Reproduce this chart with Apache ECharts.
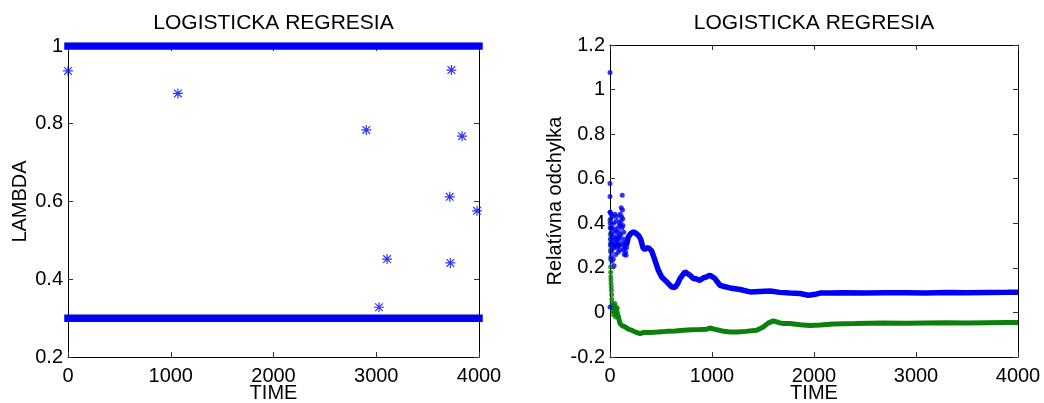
<!DOCTYPE html>
<html>
<head>
<meta charset="utf-8">
<script src="https://cdn.jsdelivr.net/npm/echarts@6/dist/echarts.min.js"></script>
<style>
html,body{margin:0;padding:0;background:#fff;}
#chart{width:1044px;height:403px;}
</style>
</head>
<body>
<div id="chart"></div>
<script>
// ---------- DATA ----------
const titleText = 'LOGISTICKA REGRESIA';
const xName = 'TIME';
const leftYName = 'LAMBDA';
const rightYName = 'Relatívna odchylka';

// left plot: lambda mostly switches between two levels; dense bands drawn as segments
const lambdaHigh = 1;
const lambdaLow = 0.3;
const highBandSegments = [[0, 946], [956, 1745], [1755, 2222], [2232, 2748], [2758, 4000]];
const lowBandSegments = [[0, 4000]];
const lambdaOutliers = [
  [0, 0.936], [1070, 0.878], [2903, 0.784], [3731, 0.938], [3835, 0.768],
  [3715, 0.612], [3981, 0.576], [3105, 0.452], [3721, 0.442], [3027, 0.328]
];

// right plot: relative deviation
const blueCloud = [
  [0, 1.077], [0, 0.579], [0, 0.52], [0, 0.45], [0, 0.024], [2, 0.40], [3, 0.45], [4, 0.33],
  [5, 0.30], [6, 0.38], [8, 0.42], [9, 0.27], [10, 0.25], [12, 0.36], [13, 0.44], [15, 0.31],
  [16, 0.35], [18, 0.23], [20, 0.28], [22, 0.38], [25, 0.43], [27, 0.34], [30, 0.32], [32, 0.24],
  [35, 0.40], [37, 0.29], [40, 0.21], [42, 0.30], [45, 0.30], [47, 0.37], [50, 0.44], [52, 0.33],
  [55, 0.26], [57, 0.31], [60, 0.36], [62, 0.41], [65, 0.43], [67, 0.34], [70, 0.29], [72, 0.33],
  [75, 0.38], [78, 0.31], [80, 0.27], [82, 0.30], [85, 0.33], [88, 0.36], [90, 0.40], [93, 0.34],
  [95, 0.30], [98, 0.28], [100, 0.44], [102, 0.39], [105, 0.35], [108, 0.41], [110, 0.47],
  [112, 0.43], [115, 0.31], [118, 0.38], [120, 0.526], [122, 0.46], [125, 0.42], [127, 0.39],
  [130, 0.28], [132, 0.33], [135, 0.36], [138, 0.30], [140, 0.26], [145, 0.29], [150, 0.31],
  [154, 0.27], [157, 0.257], [162, 0.29]
];
const blueCurve = [
  [160, 0.30], [180, 0.339], [205, 0.355], [229, 0.361], [255, 0.355], [278, 0.346], [300, 0.33],
  [327, 0.286], [350, 0.285], [376, 0.291], [408, 0.276], [441, 0.234], [474, 0.189], [507, 0.159],
  [556, 0.137], [605, 0.114], [637, 0.112], [665, 0.13], [686, 0.152], [735, 0.182], [784, 0.167],
  [817, 0.152], [850, 0.150], [882, 0.144], [915, 0.155], [948, 0.16], [980, 0.167], [1029, 0.152],
  [1078, 0.122], [1130, 0.115], [1176, 0.110], [1275, 0.103], [1373, 0.092], [1470, 0.094],
  [1569, 0.096], [1665, 0.090], [1765, 0.087], [1863, 0.085], [1944, 0.077], [2000, 0.080],
  [2059, 0.087], [2157, 0.087], [2300, 0.088], [2500, 0.087], [2700, 0.088], [2900, 0.088],
  [3100, 0.087], [3300, 0.089], [3500, 0.088], [3700, 0.089], [3900, 0.090], [4000, 0.091]
];
const greenCloud = [
  [0, 0.414], [1, 0.38], [2, 0.35], [3, 0.31], [4, 0.28], [5, 0.24], [6, 0.204], [7, 0.18],
  [8, 0.16], [9, 0.145], [10, 0.13], [12, 0.115], [14, 0.10], [16, 0.08], [18, 0.06], [20, 0.045],
  [22, 0.03], [25, 0.02], [28, 0.01], [31, 0.035], [35, -0.01], [38, 0.02], [40, 0.03], [43, 0.01],
  [45, 0.0], [48, 0.04], [50, 0.02], [53, 0.0], [55, -0.02], [58, 0.025], [60, 0.01], [63, -0.01],
  [65, -0.005], [68, 0.015], [70, 0.02], [73, 0.0], [75, -0.01]
];
const greenCurve = [
  [75, -0.01], [82, -0.02], [98, -0.05], [120, -0.06], [147, -0.065], [180, -0.075], [212, -0.08],
  [250, -0.088], [294, -0.095], [330, -0.09], [392, -0.09], [470, -0.088], [556, -0.085],
  [640, -0.083], [719, -0.08], [800, -0.078], [880, -0.077], [948, -0.075], [980, -0.070],
  [1050, -0.078], [1100, -0.083], [1176, -0.088], [1250, -0.088], [1330, -0.085], [1438, -0.080],
  [1503, -0.065], [1550, -0.048], [1601, -0.038], [1650, -0.045], [1700, -0.05], [1765, -0.050],
  [1863, -0.055], [1961, -0.059], [2060, -0.056], [2190, -0.052], [2400, -0.050], [2680, -0.047],
  [2900, -0.048], [3100, -0.047], [3300, -0.046], [3500, -0.047], [3700, -0.046], [3900, -0.045],
  [4000, -0.045]
];

// ---------- CHART ----------
const FONT = '"Liberation Sans", Arial, sans-serif';
const BLUE = '#0000f2';
const GREEN = '#0c800c';
const STAR = 'path://M0,8.8L20,8.8L20,11.2L0,11.2Z M8.8,0L11.2,0L11.2,20L8.8,20Z M3.2,1.5L18.5,16.8L16.8,18.5L1.5,3.2Z M16.8,1.5L18.5,3.2L3.2,18.5L1.5,16.8Z';

function bandData(segments, level) {
  const out = [];
  segments.forEach((s, i) => {
    if (i > 0) out.push([s[0], '-']);
    out.push([s[0], level]);
    out.push([s[1], level]);
  });
  return out;
}

const axisLineStyle = { show: true, onZero: false, lineStyle: { color: '#000', width: 1 } };
const tickStyle = { show: true, inside: true, length: 5, lineStyle: { color: '#333' } };
const labelStyle = { color: '#000', fontSize: 20, fontFamily: FONT };

function mainX(gridIndex) {
  return {
    type: 'value', gridIndex, min: 0, max: 4000, interval: 1000,
    name: xName, nameLocation: 'middle', nameGap: 26, nameMoveOverlap: false,
    nameTextStyle: { color: '#000', fontSize: 20, fontFamily: FONT },
    axisLine: axisLineStyle, axisTick: tickStyle,
    axisLabel: Object.assign({ margin: 9, formatter: v => String(v) }, labelStyle),
    splitLine: { show: false }
  };
}
function mirrorX(gridIndex) {
  return {
    type: 'value', gridIndex, min: 0, max: 4000, interval: 1000, position: 'top',
    axisLine: axisLineStyle, axisTick: tickStyle, axisLabel: { show: false }, splitLine: { show: false }
  };
}
function mainY(gridIndex, min, max, name, gap) {
  return {
    type: 'value', gridIndex, min, max, interval: 0.2,
    name, nameLocation: 'middle', nameGap: gap, nameMoveOverlap: false,
    nameTextStyle: { color: '#000', fontSize: 20, fontFamily: FONT },
    axisLine: axisLineStyle, axisTick: tickStyle,
    axisLabel: Object.assign({ margin: 5 }, labelStyle),
    splitLine: { show: false }
  };
}
function mirrorY(gridIndex, min, max) {
  return {
    type: 'value', gridIndex, min, max, interval: 0.2, position: 'right',
    axisLine: axisLineStyle, axisTick: tickStyle,
    axisLabel: { show: false }, splitLine: { show: false }
  };
}

const chart = echarts.init(document.getElementById('chart'), null, { renderer: 'canvas' });
chart.setOption({
  animation: false,
  backgroundColor: '#fff',
  title: [
    { text: titleText, left: 273.5, top: 13, padding: 0, textAlign: 'center',
      textStyle: { fontSize: 21, fontWeight: 'normal', color: '#000', fontFamily: FONT } },
    { text: titleText, left: 814, top: 13, padding: 0, textAlign: 'center',
      textStyle: { fontSize: 21, fontWeight: 'normal', color: '#000', fontFamily: FONT } }
  ],
  grid: [
    { left: 68, right: 565, top: 46, bottom: 46, containLabel: false, outerBoundsMode: 'none' },
    { left: 610, right: 26, top: 45, bottom: 46, containLabel: false, outerBoundsMode: 'none' }
  ],
  xAxis: [mainX(0), mirrorX(0), mainX(1), mirrorX(1)],
  yAxis: [
    mainY(0, 0.2, 1, leftYName, 38), mirrorY(0, 0.2, 1),
    mainY(1, -0.2, 1.2, rightYName, 45), mirrorY(1, -0.2, 1.2)
  ],
  series: [
    { type: 'line', xAxisIndex: 0, yAxisIndex: 0, data: bandData(highBandSegments, lambdaHigh),
      showSymbol: false, connectNulls: false, lineStyle: { color: BLUE, width: 7.5, cap: 'square' }, silent: true, z: 5 },
    { type: 'line', xAxisIndex: 0, yAxisIndex: 0, data: bandData(lowBandSegments, lambdaLow),
      showSymbol: false, lineStyle: { color: BLUE, width: 7.5, cap: 'square' }, silent: true, z: 5 },
    { type: 'scatter', xAxisIndex: 0, yAxisIndex: 0, data: lambdaOutliers,
      symbol: STAR, symbolSize: 10, itemStyle: { color: BLUE }, silent: true },

    { type: 'line', xAxisIndex: 2, yAxisIndex: 2, data: greenCurve,
      showSymbol: false, lineStyle: { color: GREEN, width: 5 }, silent: true },
    { type: 'scatter', xAxisIndex: 2, yAxisIndex: 2, data: greenCloud,
      symbol: 'circle', symbolSize: 5, itemStyle: { color: GREEN }, silent: true },
    { type: 'line', xAxisIndex: 2, yAxisIndex: 2, data: blueCurve,
      showSymbol: false, lineStyle: { color: BLUE, width: 5.5 }, silent: true },
    { type: 'scatter', xAxisIndex: 2, yAxisIndex: 2, data: blueCloud,
      symbol: 'circle', symbolSize: 5, itemStyle: { color: BLUE }, silent: true }
  ]
});
</script>
</body>
</html>
